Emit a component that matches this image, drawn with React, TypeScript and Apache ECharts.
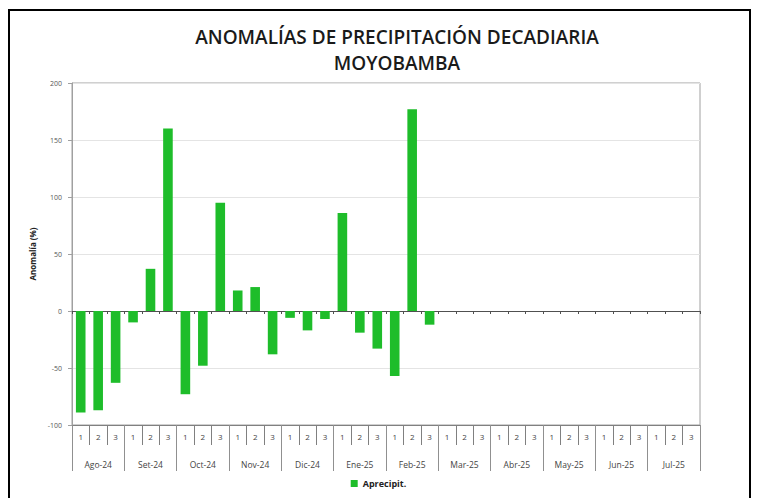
import React, { useEffect, useRef } from "react";
import * as echarts from "echarts";

const months = ["Ago-24", "Set-24", "Oct-24", "Nov-24", "Dic-24", "Ene-25", "Feb-25", "Mar-25", "Abr-25", "May-25", "Jun-25", "Jul-25"];
const decades = ["1", "2", "3"];
const anomalies: (number | null)[] = [
  -89, -87, -63,
  -10, 37, 160,
  -73, -48, 95,
  18, 21, -38,
  -6, -17, -7,
  86, -19, -33,
  -57, 177, -12,
  null, null, null,
  null, null, null,
  null, null, null,
  null, null, null,
  null, null, null,
];
const yTicks = { min: -100, max: 200, interval: 50 };

export default function App() {
  const ref = useRef<HTMLDivElement>(null);
  useEffect(() => {
    if (!ref.current) return;
    const chart = echarts.init(ref.current, null, { renderer: "svg" });
    const decadeCats: string[] = [];
    months.forEach(() => decades.forEach((d) => decadeCats.push(d)));
    const font = "'Open Sans', 'Noto Sans', sans-serif";
    chart.setOption({
      animation: false,
      backgroundColor: "#ffffff",
      title: {
        text: "ANOMALÍAS DE PRECIPITACIÓN DECADIARIA\nMOYOBAMBA",
        left: 397,
        textAlign: "center",
        top: 24,
        padding: 0,
        textStyle: { fontFamily: font, fontSize: 19, fontWeight: 600, color: "#1a1a1a", lineHeight: 26 },
      },
      graphic: [
        { type: "rect", shape: { x: 9, y: 10, width: 741, height: 500 }, style: { fill: "none", stroke: "#000", lineWidth: 2 }, silent: true },
      ],
      legend: {
        bottom: 5,
        left: "center",
        itemWidth: 7,
        itemHeight: 7,
        icon: "rect",
        itemGap: 4,
        textStyle: { fontFamily: font, fontSize: 9, fontWeight: "bold", color: "#222" },
        data: ["Aprecipit."],
      },
      grid: { left: 72, right: 57, top: 83, bottom: 73, show: true, borderColor: "#a0a0a0", borderWidth: 1 },
      xAxis: [
        {
          type: "category",
          data: decadeCats,
          position: "bottom",
          axisLine: { onZero: false, lineStyle: { color: "#808080" } },
          axisTick: { show: true, interval: 0, length: 20, lineStyle: { color: "#808080" } },
          axisLabel: { interval: 0, margin: 7, fontFamily: font, fontSize: 8, color: "#444" },
        },
        {
          type: "category",
          data: months,
          position: "bottom",
          axisLine: { show: false, onZero: false },
          axisTick: { show: true, interval: 0, length: 46, lineStyle: { color: "#909090" } },
          axisLabel: { interval: 0, margin: 35, fontFamily: font, fontSize: 8.5, color: "#444" },
        },
        {
          type: "category",
          data: decadeCats,
          position: "bottom",
          axisLine: { show: true, onZero: true, lineStyle: { color: "#505050" } },
          axisTick: { show: true, interval: 0, length: 3, lineStyle: { color: "#505050" } },
          axisLabel: { show: false },
        },
      ],
      yAxis: {
        type: "value",
        min: yTicks.min,
        max: yTicks.max,
        interval: yTicks.interval,
        name: "Anomalía (%)",
        nameLocation: "middle",
        nameGap: 36,
        nameTextStyle: { fontFamily: font, fontSize: 8, fontWeight: "bold", color: "#222" },
        axisLine: { show: true, lineStyle: { color: "#a0a0a0" } },
        axisTick: { show: true, length: 4, lineStyle: { color: "#a0a0a0" } },
        axisLabel: { fontFamily: font, fontSize: 7, color: "#555", margin: 10 },
        splitLine: { show: true, lineStyle: { color: "#e4e4e4" } },
      },
      series: [
        {
          name: "Aprecipit.",
          type: "bar",
          xAxisIndex: 0,
          data: anomalies,
          barWidth: "55%",
          itemStyle: { color: "#1ebd2a" },
        },
      ],
    });
    return () => chart.dispose();
  }, []);
  return <div ref={ref} style={{ position: "absolute", left: 0, top: 0, width: 757, height: 498 }} />;
}
